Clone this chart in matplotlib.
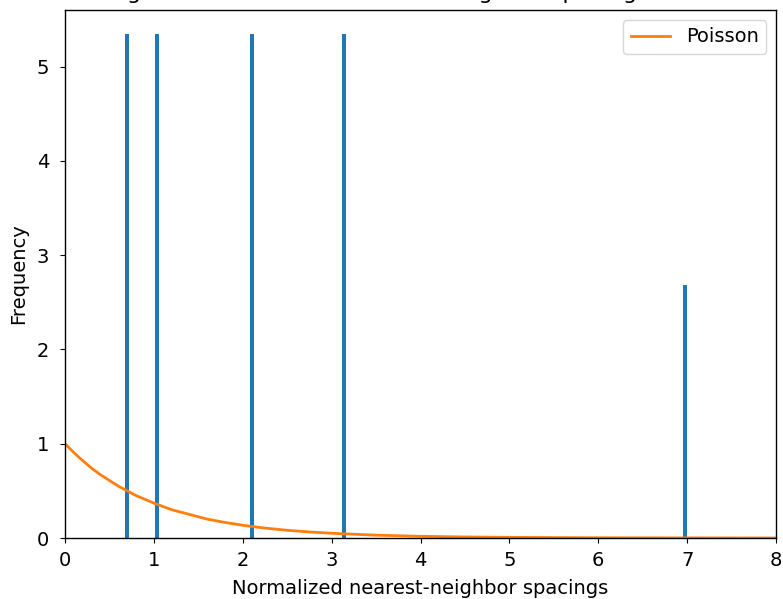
import numpy as np
from matplotlib import pyplot as plt

# Histogram bars (density)
bar_centers = [0.70, 1.04, 2.10, 3.14, 6.98]
bar_heights = [5.35, 5.35, 5.35, 5.35, 2.68]

# Poisson reference curve
s_vals = [0.0, 0.1, 0.2, 0.3, 0.4, 0.5, 0.6, 0.7, 0.8, 0.9, 1.0, 1.2, 1.4,
          1.6, 1.8, 2.0, 2.25, 2.5, 2.75, 3.0, 3.5, 4.0, 4.5, 5.0, 6.0, 7.0, 8.0]
p_vals = [1.0, 0.905, 0.82, 0.74, 0.67, 0.61, 0.55, 0.50, 0.45, 0.41, 0.37,
          0.30, 0.25, 0.20, 0.165, 0.135, 0.105, 0.082, 0.064, 0.05, 0.03,
          0.018, 0.011, 0.007, 0.0025, 0.001, 0.0003]

plt.rc('font', size=14)
plt.rc('axes', linewidth=1.0)
plt.rc('xtick.major', pad=5.5)
plt.rc('ytick.major', pad=8)

fig, ax = plt.subplots(figsize=(7.83, 5.99), dpi=100)
fig.subplots_adjust(left=65 / 783, right=776 / 783, bottom=1 - 538 / 599, top=1 - 10 / 599)

ax.bar(bar_centers, bar_heights, width=0.045, color='#1f77b4')
ax.plot(s_vals, p_vals, color='#ff7f0e', linewidth=2, label='Poisson')

ax.set_xlim(0, 8)
ax.set_ylim(0, 5.6)
ax.set_xlabel("Normalized nearest-neighbor spacings", labelpad=7)
ax.set_ylabel("Frequency", labelpad=6)
# title sits above the top edge and is cut off, as in the reference
ax.set_title("Histogram of normalized nearest-neighbor spacings vs Poisson",
             pad=8, fontsize=16)
ax.legend(loc='upper right')

fig.savefig("out.png", dpi=100)
